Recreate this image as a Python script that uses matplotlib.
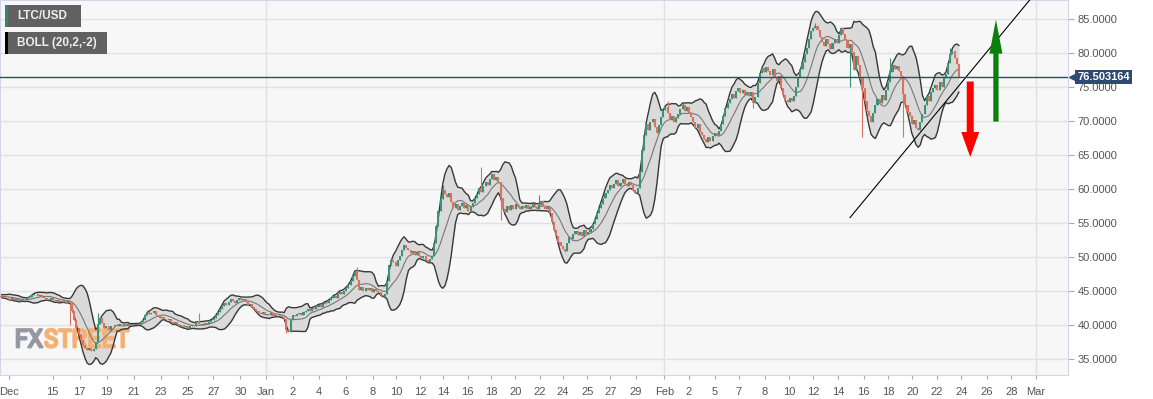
import numpy as np
import pandas as pd
import matplotlib
matplotlib.use('Agg')
import matplotlib.pyplot as plt
from matplotlib import transforms, font_manager, patheffects
from matplotlib.patches import FancyArrow, Rectangle
from matplotlib.ticker import FormatStrFormatter

plt.rcParams['font.family'] = ['Liberation Sans', 'DejaVu Sans']

# 4h candles, days counted from Dec 1 (day 0); first candle Dec 7
first_day = 6
candles_per_day = 6
# BOLL(20) on the 2h feed = 10 of these 4h candles
boll_window = 10

# closes, one row per day (6 x 4h candles)
dec_closes = [
    [44.2, 44.1, 44.3, 44.2, 44.0, 44.1],  # Dec 7
    [44.2, 44.4, 44.3, 44.1, 44.2, 44.3],
    [44.4, 44.2, 44.1, 44.3, 44.5, 44.4],
    [44.3, 44.1, 44.2, 44.4, 44.3, 44.2],  # Dec 10
    [44.2, 44.3, 44.1, 43.9, 44.0, 43.8],
    [43.7, 43.9, 43.6, 43.8, 43.5, 43.7],
    [43.8, 43.6, 43.9, 44.1, 44.4, 44.6],
    [44.5, 44.3, 44.4, 44.1, 43.9, 43.8],
    [43.7, 43.9, 43.6, 43.5, 43.7, 43.4],  # Dec 15
    [43.5, 43.6, 43.3, 43.5, 43.2, 42.0],
    [40.8, 39.5, 38.6, 37.8, 37.0, 36.6],
    [36.3, 36.6, 36.2, 36.5, 37.5, 40.2],
    [41.0, 40.3, 39.6, 39.9, 39.3, 39.8],
    [39.8, 40.0, 39.9, 40.1, 40.0, 40.1],  # Dec 20
    [40.0, 40.1, 40.0, 40.1, 40.2, 40.1],
    [40.2, 40.4, 40.8, 41.5, 41.9, 41.6],
    [41.7, 42.0, 41.5, 41.3, 41.0, 41.2],
    [40.9, 40.7, 40.9, 40.5, 40.3, 40.4],
    [40.1, 39.9, 40.0, 39.7, 39.8, 39.6],  # Dec 25
    [39.8, 40.0, 39.9, 40.6, 40.2, 40.0],
    [40.1, 40.3, 40.2, 40.5, 40.8, 41.0],
    [41.5, 41.9, 42.4, 42.8, 43.3, 42.9],
    [43.4, 43.8, 43.5, 43.3, 43.7, 43.9],
    [43.6, 43.8, 43.4, 42.9, 43.1, 42.7],  # Dec 30
    [42.3, 42.0, 41.8, 41.6, 41.9, 41.5],
]
jan_closes = [
    [41.6, 41.4, 41.7, 41.3, 41.5, 41.4],  # Jan 1
    [41.3, 41.1, 40.9, 39.3, 39.0, 40.8],
    [41.5, 41.3, 41.6, 41.8, 41.5, 41.9],
    [42.0, 42.3, 42.1, 42.5, 42.4, 42.7],
    [42.9, 42.6, 43.1, 43.4, 43.2, 43.6],  # Jan 5
    [43.9, 44.3, 44.0, 44.5, 44.8, 44.6],
    [45.0, 45.4, 45.9, 46.5, 47.2, 47.8],
    [46.6, 45.2, 45.6, 45.0, 45.5, 45.2],
    [45.4, 44.9, 45.3, 45.0, 44.8, 44.4],
    [44.2, 44.6, 46.5, 48.8, 49.6, 49.2],  # Jan 10
    [48.7, 49.5, 50.2, 51.0, 51.8, 51.3],
    [51.0, 50.6, 50.9, 50.3, 50.7, 50.1],
    [49.8, 50.2, 49.6, 49.3, 49.7, 50.1],
    [52.0, 54.5, 56.8, 58.5, 59.8, 59.2],
    [58.8, 59.4, 58.1, 57.2, 57.8, 56.9],  # Jan 15
    [57.5, 58.0, 57.2, 57.6, 56.8, 57.3],
    [58.0, 58.6, 59.3, 60.1, 59.6, 60.4],
    [61.0, 60.6, 61.5, 62.2, 61.3, 61.8],
    [61.0, 58.6, 57.0, 56.6, 57.5, 56.9],
    [57.6, 57.1, 57.8, 57.3, 57.0, 57.5],  # Jan 20
    [57.2, 57.6, 57.1, 57.4, 57.8, 57.3],
    [57.0, 57.6, 58.2, 57.5, 57.1, 57.4],
    [56.5, 55.2, 54.0, 53.1, 52.2, 51.6],
    [51.2, 50.9, 52.1, 53.0, 52.6, 53.4],
    [53.8, 53.2, 53.6, 53.1, 53.9, 53.4],  # Jan 25
    [53.7, 54.1, 54.8, 55.6, 56.5, 57.2],
    [57.8, 58.6, 59.4, 59.9, 60.6, 60.2],
    [60.8, 61.3, 60.5, 60.9, 61.4, 60.7],
    [60.4, 61.0, 60.6, 59.8, 59.4, 60.1],
    [62.5, 65.8, 68.0, 69.5, 68.7, 69.8],  # Jan 30
    [70.3, 69.1, 68.2, 69.4, 70.6, 71.6],
]
feb_closes = [
    [72.0, 71.2, 70.1, 70.8, 69.9, 70.5],  # Feb 1
    [71.0, 71.8, 72.3, 71.5, 72.1, 71.2],
    [70.6, 69.8, 68.9, 69.5, 68.4, 68.0],
    [67.4, 66.9, 67.6, 67.0, 67.8, 68.2],
    [68.0, 68.5, 69.6, 70.8, 71.9, 72.6],  # Feb 5
    [73.3, 74.0, 73.4, 74.4, 74.8, 74.1],
    [74.6, 73.8, 74.3, 73.7, 74.2, 72.6],
    [73.5, 75.6, 77.0, 77.8, 77.2, 77.9],
    [77.4, 76.8, 77.6, 76.5, 75.9, 76.6],
    [74.8, 73.8, 73.1, 72.8, 73.4, 72.9],  # Feb 10
    [73.6, 75.0, 76.5, 77.6, 78.6, 79.8],
    [80.8, 82.0, 83.2, 83.6, 84.0, 83.4],
    [82.3, 81.6, 81.0, 82.0, 81.3, 80.6],
    [81.5, 82.1, 81.4, 82.6, 83.6, 82.8],
    [81.9, 80.8, 81.3, 80.2, 77.5, 79.6],  # Feb 15
    [78.2, 76.5, 74.8, 73.0, 71.5, 70.8],
    [69.8, 71.2, 72.4, 73.3, 72.6, 73.8],
    [73.1, 74.5, 75.8, 77.2, 78.3, 77.6],
    [78.1, 77.4, 76.6, 74.0, 72.4, 71.3],
    [70.8, 69.6, 70.2, 69.0, 68.6, 69.8],  # Feb 20
    [71.0, 72.4, 73.6, 73.0, 74.2, 74.8],
    [75.3, 74.6, 75.8, 75.0, 76.3, 76.9],
    [78.5, 79.8, 80.3, 79.2, 78.4, 76.5],
]

# long wicks (day, price)
spike_days = [15.75, 17.93, 21.74, 25.79, 32.63, 38.0, 44.77, 47.8, 49.2, 52.3, 54.27,
              62.2, 63.45, 68.9, 73.8, 75.67, 76.45, 77.36, 79.56, 80.6, 84.2]
spike_prices = [40.0, 41.8, 42.2, 41.8, 38.8, 48.5, 60.6, 63.2, 55.4, 59.1, 50.7,
                72.9, 72.8, 71.9, 84.4, 83.8, 75.0, 67.6, 79.3, 67.6, 80.7]

tick_labels = ['Dec', '15', '17', '19', '21', '23', '25', '27', '30', 'Jan', '2', '4', '6', '8',
               '10', '12', '14', '16', '18', '20', '22', '24', '25', '27', '29', 'Feb', '2', '5',
               '7', '8', '10', '12', '14', '16', '18', '20', '22', '24', '26', '28', 'Mar']
tick_days = [11.0, 14.4, 16.5, 18.6, 20.7, 22.8, 24.9, 26.9, 29.0, 31.0, 33.1, 35.1, 37.2, 39.3,
             41.1, 43.0, 44.8, 46.7, 48.5, 50.4, 52.3, 54.1, 56.0, 57.8, 59.8, 62.0, 63.9, 65.9,
             67.8, 69.8, 71.7, 73.6, 75.5, 77.5, 79.4, 81.3, 83.2, 85.1, 87.1, 89.0, 90.9]
price_ticks = [35, 40, 45, 50, 55, 60, 65, 70, 75, 80, 85]

last_price = 76.503164
trend_days = [76.45, 91.0]
trend_prices = [55.8, 89.1]
sell_arrow = (85.8, 75.8, 64.7)   # day, from, to
buy_arrow = (87.8, 69.9, 84.9)

# ---- candles + bollinger
closes = np.array(dec_closes + jan_closes + feb_closes).ravel()
n = len(closes)
t = first_day + (np.arange(n) + 0.5) / candles_per_day
opens = np.r_[closes[0], closes[:-1]]
highs = np.maximum(opens, closes)
lows = np.minimum(opens, closes)
for d, p in zip(spike_days, spike_prices):
    k = int(np.clip(round((d - first_day) * candles_per_day - 0.5), 0, n - 1))
    highs[k] = max(highs[k], p)
    lows[k] = min(lows[k], p)

s = pd.Series(closes)
mid = s.rolling(boll_window).mean()
sd = s.rolling(boll_window).std(ddof=0)
upper = mid + 2 * sd
lower = mid - 2 * sd

up_col, down_col = '#3a9378', '#d9735f'
colors = np.where(closes >= opens, up_col, down_col)

fig = plt.figure(figsize=(11.53, 3.99), dpi=100)
ax = fig.add_axes([0.0, 0.0589, 0.9263, 0.9411])
ax.set_facecolor('#f7f7f7')
for sp in ax.spines.values():
    sp.set_color('#d3d6e8')

ax.set_xlim(10.30, 93.41)
ax.set_ylim(32.57, 87.79)

ax.set_yticks(price_ticks)
ax.yaxis.set_major_formatter(FormatStrFormatter('%.4f'))
ax.yaxis.tick_right()
ax.grid(axis='y', color='#e2e2e2', lw=1, zorder=0)
ax.set_xticks(tick_days, tick_labels)
for d, lab in zip(tick_days, tick_labels):
    if lab in ('Jan', 'Feb', 'Mar'):
        ax.axvline(d, color='#e2e2e2', lw=1, zorder=0)
ax.tick_params(axis='y', length=4, color='#aaaaaa', pad=3, labelsize=8, labelcolor='#555555')
ax.tick_params(axis='x', length=3, color='#aaaaaa', pad=5, labelsize=8, labelcolor='#555555')
ax.set_axisbelow(True)

# watermark: use a narrow face when one is installed
entries = font_manager.fontManager.ttflist
narrow = sorted({f.name for f in entries if 'Narrow' in f.name or 'Condensed' in f.name})
cond = sorted({f.name for f in entries if str(f.stretch) not in ('normal', '500')})
if narrow:
    logo_kw = dict(family=narrow[0], fontsize=19)
elif cond:
    logo_kw = dict(family=cond[0], fontstretch='condensed', fontsize=19)
else:
    logo_kw = dict(family='Liberation Sans', fontsize=16)
fx = ax.text(0.014, 0.095, 'FX', transform=ax.transAxes, fontweight='bold',
             color='#9598a2', va='center', zorder=2.2, **logo_kw,
             path_effects=[patheffects.withStroke(linewidth=1.6, foreground='#9598a2')])
ax.annotate('STREET', xy=(1, 0.5), xycoords=fx, xytext=(1, 0), textcoords='offset points',
            va='center', fontweight='bold', color='#f4b072', alpha=0.9, zorder=2.2, **logo_kw,
            path_effects=[patheffects.withStroke(linewidth=1.6, foreground='#f4b072')])

ax.fill_between(t, lower, upper, color='#dadada', lw=0, zorder=2)
ax.plot(t, upper, color='#383838', lw=1.0, zorder=2.5)
ax.plot(t, lower, color='#383838', lw=1.0, zorder=2.5)
ax.plot(t, mid, color='#777777', lw=0.8, zorder=2.5)

ax.vlines(t, lows, highs, colors=colors, lw=0.8, zorder=3)
body = np.maximum(np.abs(closes - opens), 0.08)
ax.bar(t, body, bottom=np.minimum(opens, closes), width=0.16, color=colors, lw=0, zorder=3)

ax.plot(trend_days, trend_prices, color='black', lw=0.8, zorder=4)
ax.axhline(last_price, color='#2c4a72', lw=1, zorder=4)

for (d, y0, y1), col, w, hw, hl in [(sell_arrow, '#ff0000', 0.545, 1.40, 3.68),
                                      (buy_arrow, '#0b7f0b', 0.41, 1.01, 5.0)]:
    ax.add_patch(FancyArrow(d, y0, 0, y1 - y0, width=w, head_width=hw, head_length=hl,
                            length_includes_head=True, color=col, ec='none', zorder=5))

# price tag on the right axis
trans = transforms.blended_transform_factory(ax.transAxes, ax.transData)
ax.annotate(f'{last_price:.6f}', xy=(1, last_price), xycoords=trans, xytext=(6.5, 0),
            textcoords='offset points', ha='left', va='center', color='white', fontsize=8,
            fontweight='bold', annotation_clip=False,
            bbox=dict(boxstyle='square,pad=0.18', fc='#2c4a72', ec='none'))
ax.plot([1.0], [last_price], marker='<', ms=5, color='#2c4a72', clip_on=False,
        transform=transforms.offset_copy(trans, fig=fig, x=4, units='dots'))

# legend tags
W, H = 1153, 399
for (y_top, label, stripe, w) in [(5, 'LTC/USD', '#2e8b6e', 76), (32, 'BOLL (20,2,-2)', '#000000', 102)]:
    fig.add_artist(Rectangle((5 / W, 1 - (y_top + 22) / H), w / W, 22 / H,
                             transform=fig.transFigure, fc='#616161', ec='none'))
    fig.add_artist(Rectangle((5 / W, 1 - (y_top + 22) / H), 3 / W, 22 / H,
                             transform=fig.transFigure, fc=stripe, ec='none'))
    fig.text(17 / W, 1 - (y_top + 11) / H, label, color='#eeeeee', fontsize=8.5,
             fontweight='bold', va='center', ha='left')

fig.savefig('out.png', dpi=100)
